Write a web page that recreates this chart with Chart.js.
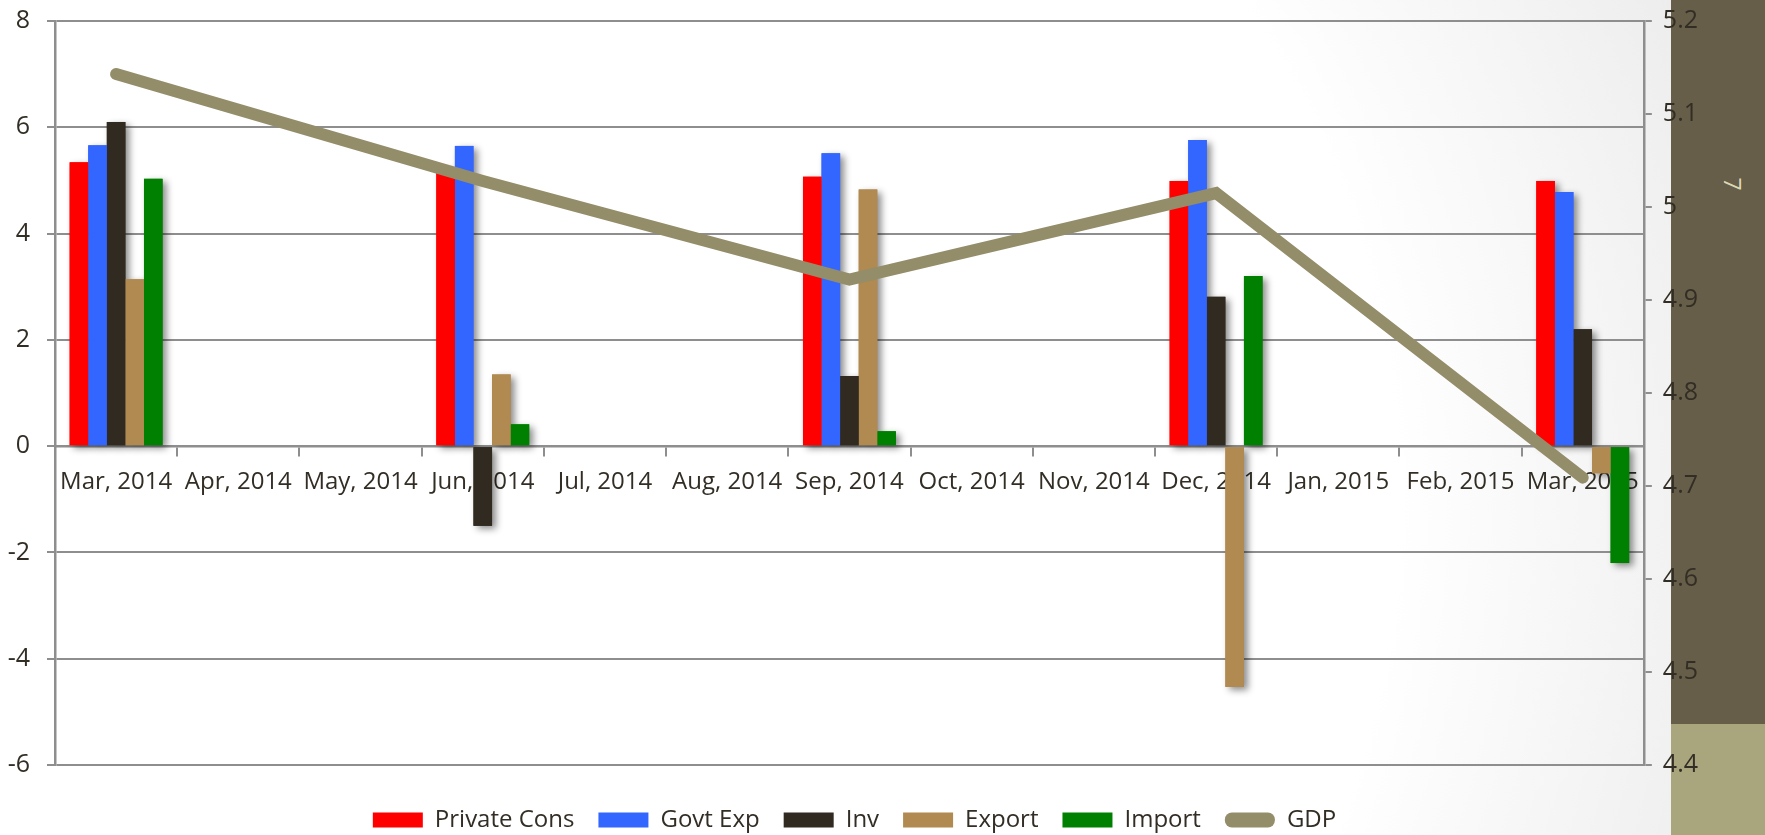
<!DOCTYPE html>
<html>
<head>
<meta charset="utf-8">
<script src="https://cdn.jsdelivr.net/npm/chart.js@4"></script>
<style>
body {
    margin: 0;
    width: 1765px;
    height: 835px;
    overflow: hidden;
    position: relative;
    background: radial-gradient(circle at 30% 60%, #ffffff 65%, #e9e9e9 100%);
}
.faixa { position: absolute; left: 1671px; width: 94px; }
#faixaCima { top: 0; height: 724px; background: #665e48; }
#faixaBaixo { top: 724px; height: 111px; background: #a9a57d; }
#pagina {
    position: absolute; left: 1726px; top: 168px;
    color: #ddd8b4; font: 23px 'Open Sans';
    transform: rotate(90deg);
}
canvas { position: absolute; left: 0; top: 0; }
</style>
</head>
<body>
<div class="faixa" id="faixaCima"></div>
<div class="faixa" id="faixaBaixo"></div>
<div id="pagina">7</div>
<canvas class="chart" width="1765" height="835"></canvas>
<script>
var meses = ['Mar, 2014','Apr, 2014','May, 2014','Jun, 2014','Jul, 2014','Aug, 2014','Sep, 2014',
             'Oct, 2014','Nov, 2014','Dec, 2014','Jan, 2015','Feb, 2015','Mar, 2015']

// quarterly values, months in between stay empty
var privateCons = [5.34, null, null, 5.25, null, null, 5.07, null, null, 4.99, null, null, 4.99]
var govtExp     = [5.66, null, null, 5.65, null, null, 5.51, null, null, 5.76, null, null, 4.78]
var inv         = [6.10, null, null, -1.50, null, null, 1.32, null, null, 2.81, null, null, 2.20]
var exportVal   = [3.14, null, null, 1.35, null, null, 4.83, null, null, -4.53, null, null, -0.51]
var importVal   = [5.03, null, null, 0.41, null, null, 0.28, null, null, 3.20, null, null, -2.20]
var gdp         = [5.143, null, null, 5.028, null, null, 4.922, null, null, 5.015, null, null, 4.709]

var ticksEsq = { min: -6, max: 8, step: 2 }
var ticksDir = { min: 4.4, max: 5.2, step: 0.1 }

var cinza = '#8e8e8e'
var texto = '#332e25'

Chart.defaults.font.family = "'Open Sans', sans-serif"
Chart.defaults.font.size = 24
Chart.defaults.color = texto

// soft shadow behind every bar, drawn before the bars themselves
var sombra = {
    id: 'sombra',
    beforeDatasetsDraw: function (chart) {
        var c = chart.ctx
        var area = chart.chartArea
        c.save()
        c.beginPath()
        c.rect(area.left, area.top, area.right - area.left, area.bottom - area.top)
        c.clip()
        c.shadowColor = 'rgba(0,0,0,0.45)'
        c.shadowBlur = 7
        c.shadowOffsetX = 4
        c.shadowOffsetY = 3
        chart.getSortedVisibleDatasetMetas().forEach(function (meta) {
            if (meta.type !== 'bar') return
            meta.data.forEach(function (barra) {
                var p = barra.getProps(['x', 'y', 'base', 'width'], true)
                if (barra.skip || isNaN(p.y) || isNaN(p.base)) return
                c.fillStyle = barra.options.backgroundColor
                c.fillRect(p.x - p.width / 2, Math.min(p.y, p.base), p.width, Math.abs(p.base - p.y))
            })
        })
        c.restore()
    }
}

var ctx = document.getElementsByClassName('chart')[0]

var grafico = new Chart(ctx, {
    data: {
        labels: meses,
        datasets: [
            { type: 'bar', label: 'Private Cons', data: privateCons, backgroundColor: '#ff0000', yAxisID: 'y', order: 1 },
            { type: 'bar', label: 'Govt Exp', data: govtExp, backgroundColor: '#3366ff', yAxisID: 'y', order: 1 },
            { type: 'bar', label: 'Inv', data: inv, backgroundColor: '#302a20', yAxisID: 'y', order: 1 },
            { type: 'bar', label: 'Export', data: exportVal, backgroundColor: '#b08a50', yAxisID: 'y', order: 1 },
            { type: 'bar', label: 'Import', data: importVal, backgroundColor: '#008000', yAxisID: 'y', order: 1 },
            {
                type: 'line', label: 'GDP', data: gdp, yAxisID: 'y1', order: 0,
                borderColor: '#938d69', backgroundColor: '#938d69',
                borderWidth: 12, borderCapStyle: 'round',
                pointRadius: 0, spanGaps: true, tension: 0
            }
        ]
    },
    options: {
        responsive: false,
        animation: false,
        layout: { padding: { left: 0, right: 56, top: 21, bottom: 0 } },
        datasets: {
            bar: { categoryPercentage: 0.76, barPercentage: 1.0 }
        },
        scales: {
            x: {
                position: { y: 0 },
                offset: true,
                grid: { drawOnChartArea: false, color: cinza, lineWidth: 2, tickLength: 9, offset: true },
                border: { color: cinza, width: 2.5 },
                ticks: { autoSkip: false, maxRotation: 0, minRotation: 0, padding: 13 }
            },
            y: {
                position: 'left',
                min: ticksEsq.min, max: ticksEsq.max,
                ticks: { stepSize: ticksEsq.step, padding: 17, font: { size: 25 } },
                grid: { color: cinza, lineWidth: 2, tickLength: 8 },
                border: { color: cinza, width: 2.5 },
                afterFit: function (escala) {
                    // fixed axis width, labels may sit close to the edge
                    escala.width = 55
                    escala.paddingTop = 0
                    escala.paddingBottom = 0
                }
            },
            y1: {
                position: 'right',
                min: ticksDir.min, max: ticksDir.max,
                ticks: {
                    stepSize: ticksDir.step, padding: 11, font: { size: 25, lineHeight: 0.75 },
                    callback: function (v) { return String(Number(v.toFixed(1))) }
                },
                grid: { drawOnChartArea: false, color: cinza, lineWidth: 2, tickLength: 8 },
                border: { color: cinza, width: 2.5 }
            }
        },
        plugins: {
            tooltip: { enabled: false },
            legend: {
                position: 'bottom',
                maxHeight: 70,
                title: { display: true, text: '', font: { size: 10, lineHeight: 1.2 }, padding: { top: 7, bottom: 0 } },
                labels: {
                    boxWidth: 50,
                    boxHeight: 15,
                    padding: 24,
                    useBorderRadius: true,
                    sort: function (a, b) { return a.datasetIndex - b.datasetIndex },
                    generateLabels: function (chart) {
                        var itens = Chart.defaults.plugins.legend.labels.generateLabels(chart)
                        itens.forEach(function (it) {
                            it.lineWidth = 0
                            it.borderRadius = it.text === 'GDP' ? 7 : 0
                        })
                        return itens
                    }
                }
            }
        }
    },
    plugins: [sombra]
})
</script>
</body>
</html>
